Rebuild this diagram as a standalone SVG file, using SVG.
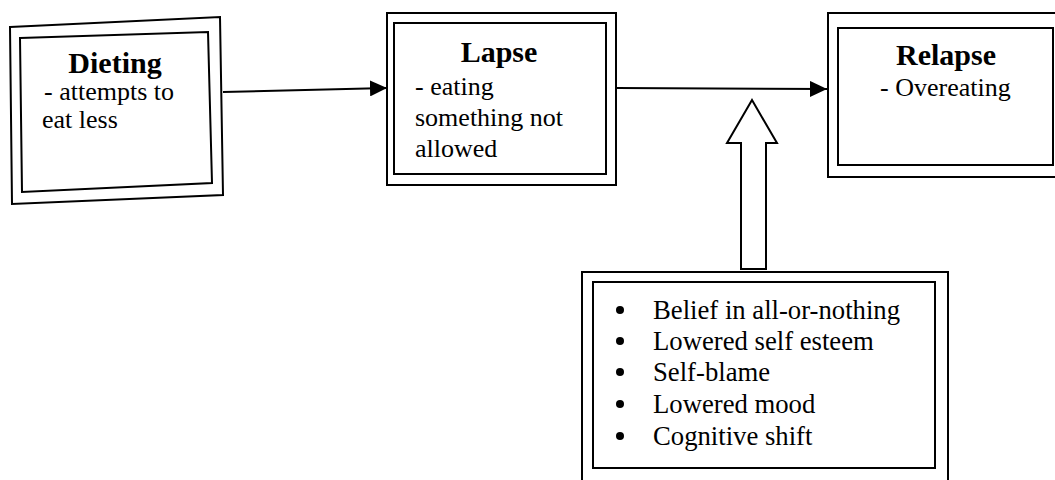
<svg xmlns="http://www.w3.org/2000/svg" width="1055" height="480" viewBox="0 0 1055 480">
<defs>
<style>
.box{fill:none;stroke:#000;stroke-width:2}
.t{font-family:"Liberation Serif","Times New Roman",serif;fill:#000}
.title{font-size:30px;font-weight:bold;text-anchor:middle}
.body{font-size:26px}
.list{font-size:26.7px}
.conn{fill:none;stroke:#000;stroke-width:2}
</style>
<marker id="ah" markerUnits="userSpaceOnUse" markerWidth="18" markerHeight="16" refX="17" refY="8" orient="auto">
<path d="M0,0 L17,8 L0,16 Z" fill="#000"/>
</marker>
</defs>
<rect width="1055" height="480" fill="#fff"/>
<g id="connectors">
<line class="conn" x1="223" y1="92" x2="387" y2="88" marker-end="url(#ah)"/>
<line class="conn" x1="617" y1="88" x2="827" y2="89" marker-end="url(#ah)"/>
<polygon class="conn" points="752,100 777,143 766,143 766,269 741,269 741,143 727,143" fill="#fff"/>
</g>
<g id="dieting">
<polygon class="box" points="10,27 220,17 223,195 12,204"/>
<polygon class="box" points="20,38 208,32 212,183 22,192"/>
<text class="t title" x="115" y="73">Dieting</text>
<text class="t body" x="44" y="100">- attempts to</text>
<text class="t body" x="42" y="128">eat less</text>
</g>
<g id="lapse">
<rect class="box" x="387" y="13" width="229" height="172"/>
<rect class="box" x="394" y="23" width="212" height="151"/>
<text class="t title" x="499" y="62">Lapse</text>
<text class="t body" x="415" y="95">- eating</text>
<text class="t body" x="415" y="126">something not</text>
<text class="t body" x="415" y="157">allowed</text>
</g>
<g id="relapse">
<rect class="box" x="828" y="13" width="240" height="164"/>
<rect class="box" x="838" y="28" width="215" height="137"/>
<text class="t title" x="946" y="65">Relapse</text>
<text class="t body" x="880" y="96">- Overeating</text>
</g>
<g id="factors">
<rect class="box" x="582" y="272" width="366" height="220"/>
<rect class="box" x="593" y="282" width="342" height="186"/>
<g fill="#000">
<circle cx="620" cy="310" r="4"/>
<circle cx="620" cy="341" r="4"/>
<circle cx="620" cy="372" r="4"/>
<circle cx="620" cy="404" r="4"/>
<circle cx="620" cy="436" r="4"/>
</g>
<text class="t list" x="653" y="319">Belief in all-or-nothing</text>
<text class="t list" x="653" y="350">Lowered self esteem</text>
<text class="t list" x="653" y="381">Self-blame</text>
<text class="t list" x="653" y="413">Lowered mood</text>
<text class="t list" x="653" y="445">Cognitive shift</text>
</g>
</svg>
